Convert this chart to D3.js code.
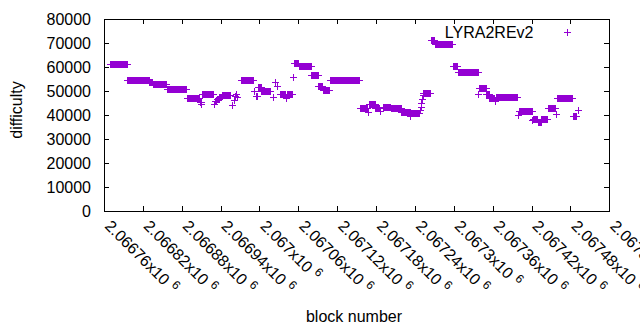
<!DOCTYPE html>
<html><head><meta charset="utf-8">
<script src="https://cdn.jsdelivr.net/npm/d3@7"></script>
<style>
html,body{margin:0;padding:0;background:#fff;}
text{font-family:"Liberation Sans",Arial,sans-serif;fill:#000;}
</style></head>
<body>
<svg id="chart" width="640" height="330"></svg>
<script>
// Runs of consecutive blocks sharing the same difficulty
const runFirstBlock = [2066770,2066796,2066830,2066835,2066857,2066888,2066908,2066909,2066910,2066911,2066930,2066931,2066934,2066938,2066942,2066957,2066960,2066962,2066964,2066966,2066972,2066991,2066995,2066998,2067003,2067021,2067024,2067027,2067032,2067041,2067043,2067052,2067053,2067061,2067080,2067091,2067098,2067109,2067155,2067167,2067169,2067179,2067186,2067190,2067203,2067219,2067233,2067234,2067248,2067249,2067250,2067251,2067252,2067253,2067264,2067271,2067298,2067306,2067338,2067339,2067350,2067355,2067363,2067365,2067399,2067400,2067421,2067422,2067430,2067435,2067446,2067457,2067460,2067484,2067491];
const runLastBlock  = [2066795,2066829,2066834,2066856,2066887,2066907,2066908,2066909,2066910,2066928,2066930,2066933,2066937,2066941,2066955,2066957,2066960,2066962,2066964,2066966,2066990,2066992,2066996,2067002,2067017,2067021,2067024,2067027,2067040,2067041,2067050,2067052,2067060,2067079,2067090,2067097,2067108,2067154,2067166,2067167,2067178,2067184,2067186,2067202,2067218,2067232,2067233,2067247,2067248,2067249,2067250,2067251,2067252,2067263,2067270,2067297,2067305,2067337,2067338,2067349,2067354,2067362,2067364,2067398,2067399,2067420,2067421,2067429,2067434,2067444,2067456,2067457,2067483,2067488,2067491];
const runDifficulty = [61100,54500,53700,52800,50700,47000,45500,44600,45300,48600,44700,45800,46700,47400,48200,44000,46300,47900,48900,47500,54500,50100,48000,51700,49900,47600,53600,52100,48900,47000,48750,55700,61700,60300,56500,51900,50300,54500,43000,41400,44500,42900,41700,43500,43000,41400,39600,40700,42000,43500,45100,46700,48300,49300,71250,69500,60300,57800,48600,51200,48600,47000,45800,47400,39900,41600,37900,38500,37000,38200,42800,40300,47000,39700,42000];

const yTicks = [0,10000,20000,30000,40000,50000,60000,70000,80000];
const xTicks = [2066760,2066820,2066880,2066940,2067000,2067060,2067120,2067180,2067240,2067300,2067360,2067420,2067480,2067540];
const seriesName = "LYRA2REv2";
const xTitle = "block number";
const yTitle = "difficulty";

const points = [];
runFirstBlock.forEach((b0,i)=>{
  for(let b=b0;b<=runLastBlock[i];b++) points.push({block:b, diff:runDifficulty[i]});
});

const svg = d3.select("#chart");
const L=104, R=609.3, T=19, B=211;
const x = d3.scaleLinear().domain([xTicks[0], xTicks[xTicks.length-1]]).range([L,R]);
const y = d3.scaleLinear().domain([0,80000]).range([B,T]);
const color = "#9400d3";
const tk = 5;

svg.append("g").attr("transform",`translate(${L},0)`)
  .call(d3.axisLeft(y).tickValues(yTicks).tickSize(-tk).tickPadding(13).tickFormat(d3.format("d")))
  .call(g=>g.select(".domain").remove())
  .call(g=>g.selectAll("text").attr("font-size",16).attr("font-family",'"Liberation Sans",Arial,sans-serif'));
svg.append("g").attr("transform",`translate(${R},0)`)
  .call(d3.axisRight(y).tickValues(yTicks).tickSize(-tk).tickFormat(""))
  .call(g=>g.select(".domain").remove());
svg.append("g").attr("transform",`translate(0,${B})`)
  .call(d3.axisBottom(x).tickValues(xTicks).tickSize(-tk).tickFormat(""))
  .call(g=>g.select(".domain").remove());
svg.append("g").attr("transform",`translate(0,${T})`)
  .call(d3.axisTop(x).tickValues(xTicks).tickSize(-tk).tickFormat(""))
  .call(g=>g.select(".domain").remove());
svg.selectAll(".tick line").attr("shape-rendering","crispEdges");

svg.append("rect").attr("x",L).attr("y",T).attr("width",R-L).attr("height",B-T)
  .attr("fill","none").attr("stroke","#000").attr("shape-rendering","crispEdges");

const fmt = d3.format(".6~g");
const xl = svg.append("g").selectAll("text").data(xTicks).join("text")
  .attr("transform",d=>`translate(${x(d)},227) rotate(45)`)
  .attr("font-size",16);
xl.append("tspan").text(d=>fmt(d/1e6)+"x10");
xl.append("tspan").attr("font-size",12).attr("dx",5).attr("dy",-6).text("6");

const h = 3.5;
svg.append("g").selectAll("path").data(points).join("path")
  .attr("d",d=>{const cx=Math.round(x(d.block))+0.5, cy=Math.round(y(d.diff))+0.5;
    return `M${cx-h},${cy}H${cx+h}M${cx},${cy-h}V${cy+h}`;})
  .attr("stroke",color).attr("stroke-width",1).attr("fill","none").attr("shape-rendering","crispEdges");

svg.append("text").attr("x",533.5).attr("y",37.5).attr("text-anchor","end").attr("font-size",16).text(seriesName);
svg.append("path").attr("d",`M${567.5-h},32.5H${567.5+h}M567.5,${32.5-h}V${32.5+h}`).attr("stroke",color).attr("shape-rendering","crispEdges");

svg.append("text").attr("x",354).attr("y",321.5).attr("text-anchor","middle").attr("font-size",16).text(xTitle);
svg.append("text").attr("transform","translate(22,110) rotate(-90)").attr("text-anchor","middle").attr("font-size",16).text(yTitle);
</script>
</body></html>
